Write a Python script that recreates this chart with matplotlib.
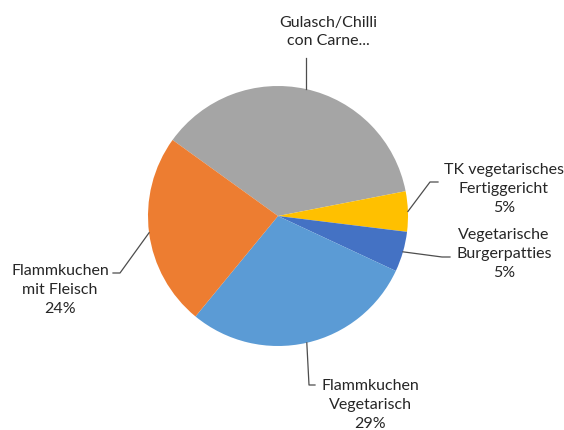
import matplotlib.pyplot as plt
import numpy as np

# slices, clockwise starting at the grey one
labels = ["Gulasch/Chilli\ncon Carne...", "TK vegetarisches\nFertiggericht\n5%",
          "Vegetarische\nBurgerpatties\n5%", "Flammkuchen\nVegetarisch\n29%",
          "Flammkuchen\nmit Fleisch\n24%"]
values = [37, 5, 5, 29, 24]
colors = ["#A5A5A5", "#FFC000", "#4472C4", "#5B9BD5", "#ED7D31"]

W, H = 564, 430
CX, CY, R = 278, 216, 130


def px(x, y):
    # pixel position (top-left origin) -> data coords (pie radius 1)
    return (x - CX) / R, (CY - y) / R


plt.rcParams["font.family"] = ["Lato", "DejaVu Sans"]

fig = plt.figure(figsize=(W / 100, H / 100), dpi=100)
ax = fig.add_axes([0, 0, 1, 1])

wedges, _ = ax.pie(values, colors=colors, startangle=144.2, counterclock=False,
                   radius=1, wedgeprops=dict(linewidth=0))

ax.set_xlim(-CX / R, (W - CX) / R)
ax.set_ylim(-(H - CY) / R, CY / R)
ax.set_aspect("equal")
ax.axis("off")

# label layout: (elbow px, end px, text center px)
layout = [
    (None, (304, 58), (328, 32)),
    ((430, 182), (438, 182), (504, 189)),
    ((442, 257), (450, 257), (504, 254)),
    ((309, 385), (315, 385), (370, 405)),
    ((120, 273), (113, 273), (60, 290)),
]

line_kw = dict(color="#4d4d4d", lw=0.9)
for w, lab, (elbow, end, tpos) in zip(wedges, labels, layout):
    mid = np.deg2rad((w.theta1 + w.theta2) / 2)
    sx, sy = np.cos(mid), np.sin(mid)
    pts = [(sx, sy)]
    if elbow is not None:
        pts.append(px(*elbow))
    ex, ey = px(*end)
    if elbow is None:
        ex = sx
    pts.append((ex, ey))
    xs, ys = zip(*pts)
    ax.plot(xs, ys, **line_kw)
    tx, ty = px(*tpos)
    ax.text(tx, ty, lab, ha="center", va="center", fontsize=11.5, color="#262626",
            linespacing=1.45)

fig.savefig("out.png", dpi=100)
